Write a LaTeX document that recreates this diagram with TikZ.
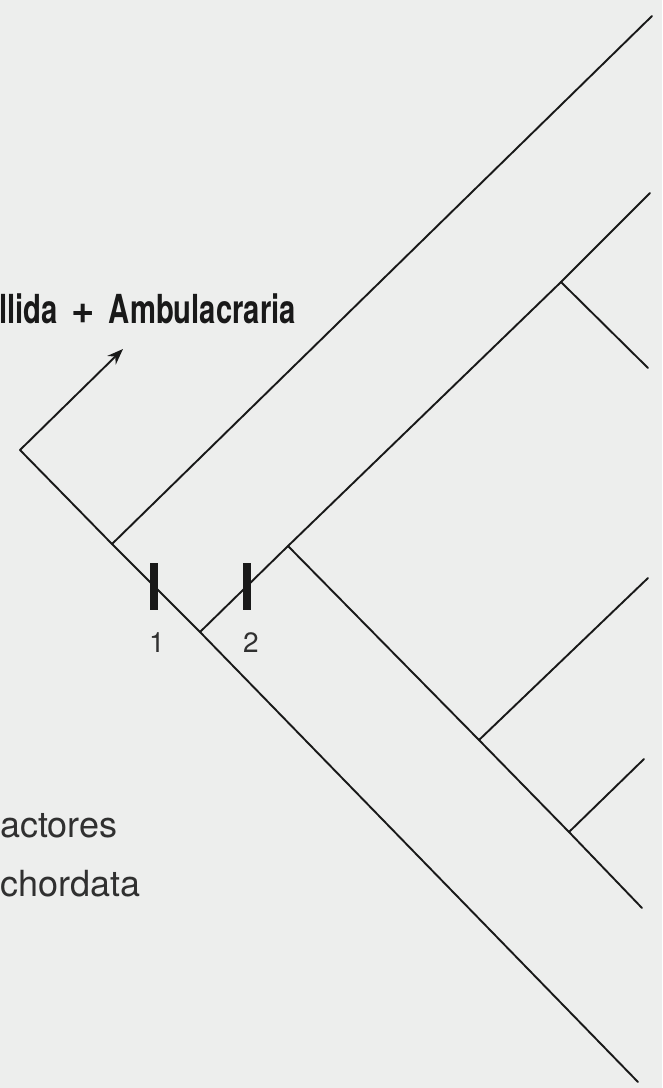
\documentclass[tikz,border=0pt]{standalone}
\usepackage{fontspec}
\setmainfont{TeX Gyre Heros}
\newfontfamily\condfont{TeX Gyre Heros}[FakeStretch=0.73]
\usetikzlibrary{arrows.meta}
\definecolor{bgcol}{RGB}{237,238,237}
\definecolor{inkcol}{RGB}{25,25,25}
\newcommand{\bigplus}{{\normalfont\bfseries\fontsize{40}{44}\selectfont+}}
\tikzset{
  branch/.style={draw=inkcol, line width=1.9pt, line cap=round},
  tickbar/.style={draw=inkcol, line width=8.5pt},
  cladetext/.style={inner sep=0pt, text=inkcol, font=\condfont\bfseries\fontsize{40}{44}\selectfont},
  taxtext/.style={inner sep=0pt, text=inkcol!90, font=\fontsize{36}{40}\selectfont},
  numtext/.style={inner sep=0pt, text=inkcol!90, font=\fontsize{28}{32}\selectfont},
}
\begin{document}
\begin{tikzpicture}[x=1pt,y=-1pt]
\fill[bgcol] (0,0) rectangle (662,1088);
\useasboundingbox (0,0) rectangle (662,1088);
\clip (0,0) rectangle (662,1088);
% coordinates
\coordinate (root) at (20,450);
\coordinate (arrowtip) at (123,349);
\coordinate (n1) at (112,544);
\coordinate (n2) at (200,632);
\coordinate (n3) at (288,546);
\coordinate (n4) at (561,282);
\coordinate (n5) at (479,740);
\coordinate (n6) at (569,832);
\coordinate (t1) at (652,16);
\coordinate (t2) at (650,193);
\coordinate (t3) at (648,368);
\coordinate (t4) at (648,578);
\coordinate (t5) at (644,759);
\coordinate (t6) at (642,908);
\coordinate (t7) at (638,1082);
\coordinate (k1a) at (154,563);
\coordinate (k1b) at (154,610);
\coordinate (k2a) at (247,563);
\coordinate (k2b) at (247,610);
% branches
\draw[branch, -{Stealth[length=16pt,width=12pt]}] (root) -- (arrowtip);
\draw[branch] (root) -- (n1) -- (n2) -- (t7);
\draw[branch] (n1) -- (t1);
\draw[branch] (n2) -- (n3) -- (n4) -- (t2);
\draw[branch] (n4) -- (t3);
\draw[branch] (n3) -- (n5) -- (n6) -- (t6);
\draw[branch] (n5) -- (t4);
\draw[branch] (n6) -- (t5);
% ticks
\draw[tickbar] (k1a) -- (k1b);
\draw[tickbar] (k2a) -- (k2b);
% labels
\node[numtext] (lab1) at (157,643) {1};
\node[numtext] (lab2) at (251,643) {2};
\node[cladetext, anchor=base west] (clade) at (-1,323) {\spaceskip=14pt\relax llida \bigplus{} Ambulacraria};
\node[taxtext, anchor=base west] (tax1) at (0,837) {actores};
\node[taxtext, anchor=base west] (tax2) at (0,896) {chordata};
\end{tikzpicture}
\end{document}
